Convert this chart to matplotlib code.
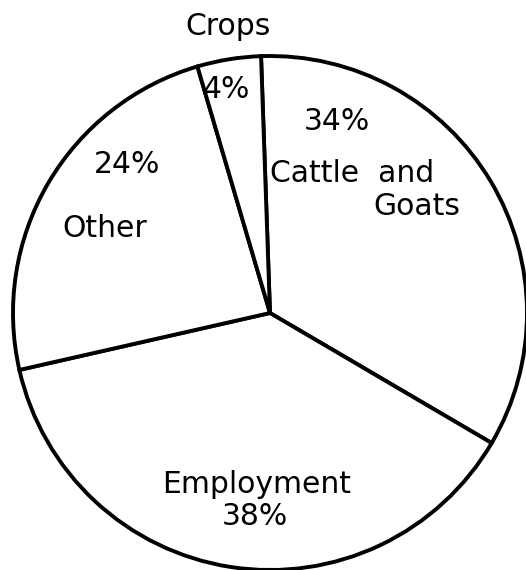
import matplotlib
matplotlib.use("Agg")
import matplotlib.pyplot as plt

categories = ["Cattle and Goats", "Employment", "Other", "Crops"]
shares = [34, 38, 24, 4]
pct_labels = ["34%", "38%", "24%", "4%"]

W, H = 526, 570
fig = plt.figure(figsize=(W / 100, H / 100), dpi=100)
ax = fig.add_axes([0, 0, 1, 1])

cx, cy, r = 270, H - 313, 257
ax.pie(shares, center=(cx, cy), radius=r, startangle=92, counterclock=False,
       colors=["white"] * len(shares),
       wedgeprops=dict(edgecolor="black", linewidth=2.8))
ax.set_xlim(0, W)
ax.set_ylim(0, H)
ax.set_aspect("equal")
ax.axis("off")

fs = 21.5
def put(x, y, s, size=fs):
    ax.text(x, H - y, s, ha="center", va="baseline", fontsize=size,
            family="DejaVu Sans", color="black")

put(228, 35, categories[3])
put(226, 98, pct_labels[3])
put(337, 130, pct_labels[0])
put(352, 182, "Cattle  and")
put(417, 215, "Goats")
put(127, 173, pct_labels[2])
put(105, 237, categories[2])
put(257, 493, categories[1])
put(255, 525, pct_labels[1])

fig.savefig("out.png", dpi=100, facecolor="white")
